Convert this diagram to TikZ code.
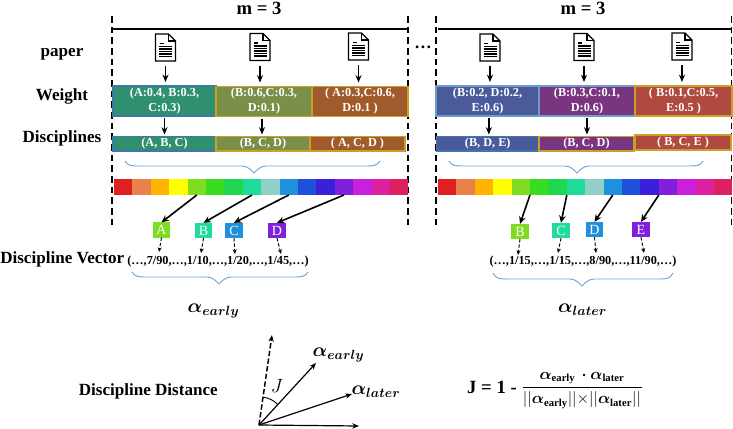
\documentclass[tikz,border=0pt]{standalone}
\usepackage{amsmath}
\usepackage{fontspec}
\setmainfont{Liberation Serif}
\usetikzlibrary{arrows.meta}
\definecolor{cA}{HTML}{2F9070}\definecolor{cB}{HTML}{7A8F48}\definecolor{cC}{HTML}{A05A2C}
\definecolor{cD}{HTML}{4A5A9A}\definecolor{cE}{HTML}{7A3580}\definecolor{cF}{HTML}{B04A40}
\definecolor{edgeblue}{HTML}{3F78A8}\definecolor{edgelight}{HTML}{6A9CCC}\definecolor{edgegold}{HTML}{C9A028}
\definecolor{bracecol}{HTML}{6AA5DC}
\definecolor{s1}{HTML}{E02020}\definecolor{s2}{HTML}{E8824A}\definecolor{s3}{HTML}{FFB400}\definecolor{s4}{HTML}{FFFF00}
\definecolor{s5}{HTML}{80DC20}\definecolor{s6}{HTML}{38DC20}\definecolor{s7}{HTML}{20D850}\definecolor{s8}{HTML}{20DC9A}
\definecolor{s9}{HTML}{90D0C8}\definecolor{s10}{HTML}{1E90DC}\definecolor{s11}{HTML}{1E50DC}\definecolor{s12}{HTML}{3A20DC}
\definecolor{s13}{HTML}{8020DC}\definecolor{s14}{HTML}{C820DC}\definecolor{s15}{HTML}{DC20A0}\definecolor{s16}{HTML}{DC2060}
\tikzset{
  x=0.75pt,y=-0.75pt,
  sectionlabel/.style={font=\bfseries\fontsize{12.8}{14}\selectfont,inner sep=0pt},
  mlabel/.style={font=\bfseries\fontsize{14}{16}\selectfont,inner sep=0pt},
  boxtext/.style={font=\bfseries\fontsize{9.2}{11.25}\selectfont,text=white,align=center,inner sep=0pt,outer sep=0pt,line width=0.8pt},
  tagbox/.style={font=\fontsize{10.5}{12}\selectfont,text=white,inner sep=0pt,outer sep=0pt,minimum width=13pt,minimum height=11.5pt},
  cell/.style={inner sep=0pt,outer sep=0pt,minimum width=13.8pt,minimum height=12pt},
  vectext/.style={font=\bfseries\fontsize{9.2}{11}\selectfont,inner sep=0pt},
  flow/.style={line width=1pt,-{Stealth[length=5.5pt,width=4.5pt]}},
  pick/.style={line width=1.2pt,-{Stealth[length=5.5pt,width=5pt]}},
  dashpick/.style={line width=0.7pt,dash pattern=on 2.5pt off 1.5pt,-{Stealth[length=3.5pt,width=3pt]}},
  fence/.style={line width=1.1pt,dash pattern=on 5pt off 3pt},
  vecline/.style={line width=0.9pt,-{Stealth[length=5pt,width=4pt]}},
  dashvec/.style={line width=1.1pt,dash pattern=on 4pt off 1.8pt,-{Stealth[length=5pt,width=4pt]}},
  iconnode/.style={inner sep=0pt,outer sep=0pt,minimum width=15pt,minimum height=21pt}
}
% name, x1, x2, y1, y2, fill, edge, text
\newcommand\wbox[8]{\node[boxtext,fill=#6,draw=#7,minimum width={(#3-#2)*0.75pt},minimum height={(#5-#4)*0.75pt}] (#1) at ({(#2+#3)/2},{(#4+#5)/2}) {#8};}
% name, x, y (centre)
\newcommand\docicon[3]{%
  \node[iconnode] (#1) at (#2,#3) {};
  \draw[line width=1pt,fill=white,line join=miter] ({#2-10},{#3-13.5}) -- ({#2+3},{#3-13.5}) -- ({#2+10},{#3-6.5}) -- ({#2+10},{#3+13.5}) -- ({#2-10},{#3+13.5}) -- cycle;
  \draw[line width=0.8pt] ({#2+3},{#3-13.5}) -- ({#2+3},{#3-6.5}) -- ({#2+10},{#3-6.5});
  \draw[line width=0.9pt] ({#2-6},{#3-4}) -- ({#2-2},{#3-4});
  \foreach \dy in {-1,1.5,4,6.5,9} {\draw[line width=0.8pt] ({#2-6.5},{#3+\dy}) -- ({#2+6.5},{#3+\dy});}
}
% x1, x2, ytop, ymid, ytip, tipx
\newcommand\curlybrace[6]{\draw[bracecol,line width=0.7pt] (#1,#3) .. controls ({#1+3},#4) and ({#1+7},#4) .. ({#1+14},#4) -- ({#6-12},#4) .. controls ({#6-6},#4) and ({#6-2},{#5-2}) .. (#6,#5) .. controls ({#6+2},{#5-2}) and ({#6+6},#4) .. ({#6+12},#4) -- ({#2-14},#4) .. controls ({#2-7},#4) and ({#2-3},#4) .. (#2,#3);}
\begin{document}
\begin{tikzpicture}
\useasboundingbox (0,0) rectangle (733,429);
% titles and labels
\node[mlabel] (m1) at (259,8) {m = 3};
\node[mlabel] (m2) at (583,8) {m = 3};
\node[sectionlabel] (lpaper) at (62,54) {paper};
\node[sectionlabel] (lweight) at (62,96) {Weight};
\node[sectionlabel] (ldisc) at (62,138) {Disciplines};
\node[sectionlabel,anchor=west] (lvec) at (0,259) {Discipline Vector};
\node[sectionlabel,anchor=east] (ldist) at (218,391) {Discipline Distance};
\node[font=\bfseries\fontsize{13}{14}\selectfont,inner sep=0pt] (dots) at (423,47) {…};
% fences
\foreach \fx in {112,408,436,731.5} {\draw[fence] (\fx,16) -- (\fx,225);}
\coordinate (t1a) at (113,29); \coordinate (t1b) at (408,29);
\coordinate (t2a) at (438,29); \coordinate (t2b) at (732,29);
\draw[line width=0.8pt] (t1a) -- (t1b);
\draw[line width=0.8pt] (t2a) -- (t2b);
% documents
\docicon{p1}{165.5}{47.5}\docicon{p2}{260}{47}\docicon{p3}{358.5}{46.5}
\docicon{p4}{490}{47.5}\docicon{p5}{584}{47}\docicon{p6}{682}{46.5}
% weight row
\wbox{w1}{113}{216}{86}{116}{cA}{edgeblue}{(A:0.4, B:0.3,\\C:0.3)}
\wbox{w2}{216}{312}{86.5}{116.5}{cB}{edgegold}{(B:0.6,C:0.3,\\D:0.1)}
\wbox{w3}{312}{408}{86.5}{116.5}{cC}{edgegold}{( A:0.3,C:0.6,\\D:0.1 )}
\wbox{w4}{436}{539}{86}{116}{cD}{edgelight}{(B:0.2, D:0.2,\\E:0.6)}
\wbox{w5}{539}{635}{86}{116}{cE}{edgelight}{(B:0.3,C:0.1,\\D:0.6)}
\wbox{w6}{635}{732}{86}{116}{cF}{edgegold}{( B:0.1,C:0.5,\\E:0.5 )}
% discipline row
\wbox{d1}{113}{216}{136.5}{151}{cA}{edgeblue}{(A, B, C)}
\wbox{d2}{216}{310}{136.5}{151}{cB}{edgegold}{(B, C, D)}
\wbox{d3}{310}{405}{136.5}{151}{cC}{edgegold}{( A, C, D )}
\wbox{d4}{436.5}{539}{136.5}{151}{cD}{edgeblue}{(B, D, E)}
\wbox{d5}{539}{634}{136.5}{151}{cE}{edgegold}{(B, C, D)}
\wbox{d6}{635}{731}{135}{150}{cF}{edgegold}{( B, C, E )}
% arrows paper -> weight
\foreach \p/\w in {p1/w1,p2/w2,p3/w3,p4/w4,p5/w5,p6/w6} {\draw[flow,shorten <=3.5pt,shorten >=3pt] (\p.south) -- (\p.south |- \w.north);}
% arrows weight -> disciplines
\draw[flow,shorten <=1.5pt,shorten >=1.5pt] (w1.south) -- (w1.south |- d1.north);
\draw[flow,shorten <=1.5pt,shorten >=1.5pt] ([xshift=-1.5pt]w2.south) -- ([xshift=-1.5pt]w2.south |- d2.north);
\draw[flow,shorten <=1.5pt,shorten >=1.5pt] ([xshift=1pt]w4.south) -- ([xshift=1pt]w4.south |- d4.north);
\draw[flow,shorten <=1.5pt,shorten >=1.5pt] (w5.south) -- (w5.south |- d5.north);
% braces
\curlybrace{125}{380}{161}{166}{173}{254}
\curlybrace{449}{703}{161}{166}{173}{577}
% spectrum bars
\foreach \i in {1,...,16} {
  \node[cell,fill=s\i] (L\i) at ({114+(\i-0.5)*18.4},187) {};
  \node[cell,fill=s\i] (R\i) at ({438+(\i-0.5)*18.4},187) {};
}
% discipline tags
\node[tagbox,fill=s5] (A) at (161.5,230) {A};
\node[tagbox,fill=s8] (B) at (203.5,230.5) {B};
\node[tagbox,fill=s10] (C) at (234,230.5) {C};
\node[tagbox,fill=s13] (D) at (277,230.5) {D};
\node[tagbox,fill=s5] (B2) at (520,231.5) {B};
\node[tagbox,fill=s8] (C2) at (561,230.5) {C};
\node[tagbox,fill=s10] (D2) at (594.5,229.5) {D};
\node[tagbox,fill=s13] (E2) at (641,229.5) {E};
% spectrum -> tag
\draw[pick] (L5.south) -- (A.north);
\draw[pick] (L8.south) -- (B.north);
\draw[pick] (L10.south) -- (C.north);
\draw[pick] (L13.south) -- (D.north);
\draw[pick] (R5.south east) -- (B2.north);
\draw[pick] (R7.south east) -- (C2.north);
\draw[pick] (R10.south) -- (D2.north);
\draw[pick] (R12.south east) -- (E2.north);
% vectors
\node[vectext] (v1) at (218,262) {(…,7/90,…,1/10,…,1/20,…,1/45,…)};
\node[vectext] (v2) at (583,262) {(…,1/15,…,1/15,…,8/90,…,11/90,…)};
\coordinate (vA) at (159,252); \coordinate (vB) at (201,253); \coordinate (vC) at (235,254); \coordinate (vD) at (281,254);
\coordinate (vB2) at (518,255); \coordinate (vC2) at (558,253); \coordinate (vD2) at (596,253); \coordinate (vE2) at (644,253);
\draw[dashpick] (A.south) -- (vA);
\draw[dashpick] (B.south) -- (vB);
\draw[dashpick] (C.south) -- (vC);
\draw[dashpick] (D.south) -- (vD);
\draw[dashpick] (B2.south) -- (vB2);
\draw[dashpick] (C2.south) -- (vC2);
\draw[dashpick] (D2.south) -- (vD2);
\draw[dashpick] (E2.south) -- (vE2);
\curlybrace{132}{308}{272}{277}{284}{219}
\curlybrace{493}{673}{273}{279}{286}{582}
% alpha labels
\node[inner sep=0pt] (ae) at (213.5,311) {\Large$\boldsymbol{\alpha_{early}}$};
\node[inner sep=0pt] (al) at (582.5,310) {\Large$\boldsymbol{\alpha_{later}}$};
% angle diagram
\coordinate (O) at (259,425);
\coordinate (xe) at (359,426);
\coordinate (ye) at (272,335);
\node[inner sep=0pt] (ae2) at (338.5,355) {\Large$\boldsymbol{\alpha_{early}}$};
\node[inner sep=0pt] (al2) at (376,392) {\Large$\boldsymbol{\alpha_{later}}$};
\coordinate (ee) at (316,363);
\coordinate (le) at (352,394);
\draw[vecline] (O) -- (xe);
\draw[dashvec] (O) -- (ye);
\draw[vecline] (O) -- (ee);
\draw[vecline] (O) -- (le);
\coordinate (arcA) at (263,397); \coordinate (arcB) at (278,405);
\draw[line width=0.7pt] (arcA) .. controls (269,398) and (275,401) .. (arcB);
\node[inner sep=0pt] (J) at (277,386) {\Large$J$};
% formula
\node[font=\bfseries\fontsize{14}{16}\selectfont,inner sep=0pt] (fl) at (492,387) {J = 1 -};
\node[inner sep=0pt] (num) at (582,378) {\large$\boldsymbol{\alpha}_{\mathbf{early}}\,\boldsymbol{\cdot}\boldsymbol{\alpha}_{\mathbf{later}}$};
\node[inner sep=0pt] (den) at (582,400) {\large$||\boldsymbol{\alpha}_{\mathbf{early}}||{\times}||\boldsymbol{\alpha}_{\mathbf{later}}||$};
\coordinate (barA) at (523,387); \coordinate (barB) at (642,387);
\draw[line width=0.7pt] (barA) -- (barB);
\end{tikzpicture}
\end{document}
